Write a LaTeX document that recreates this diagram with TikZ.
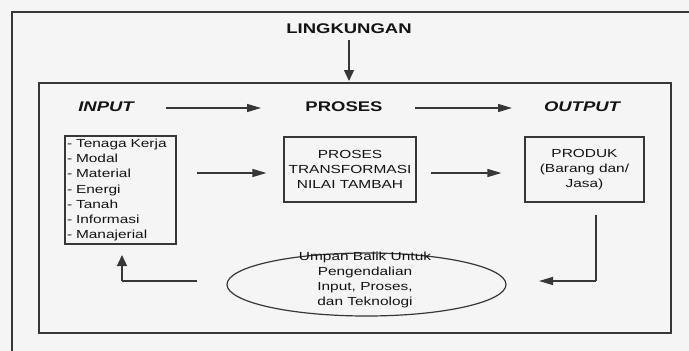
\documentclass[tikz,border=0pt]{standalone}
\usepackage{fontspec}
\setmainfont{Liberation Sans}[FakeStretch=1.32]
\usetikzlibrary{arrows.meta,shapes.geometric}
\definecolor{bgc}{RGB}{245,245,245}
\definecolor{lnc}{RGB}{55,55,55}
\definecolor{txc}{RGB}{20,20,20}
\tikzset{
  frame/.style={draw=lnc,line width=1.3pt},
  boxnode/.style={draw=lnc,line width=1.2pt,inner sep=2pt,text=txc,
    font=\fontsize{11.7}{15.2}\selectfont},
  head/.style={text=txc,font=\fontsize{14}{16}\selectfont\bfseries,inner sep=0pt},
  harr/.style={draw=lnc,line width=1.3pt,-{Triangle[length=14pt,width=8pt]}},
  varr/.style={draw=lnc,line width=1.3pt,-{Triangle[length=11pt,width=10pt]}},
  fbline/.style={draw=lnc,line width=1.3pt}
}
\begin{document}
\begin{tikzpicture}[x=1pt,y=-1pt]
\useasboundingbox (0,0) rectangle (689,351);
\fill[bgc] (0,0) rectangle (689,351);
% outer and inner frames
\draw[frame] (12,352) -- (12,12) -- (689,12);
\draw[frame] (39,83) rectangle (671,333);
% headings
\node[head] (ling) at (349,29) {LINGKUNGAN};
\node[head] (inp) at (106,107) {\itshape INPUT};
\node[head] (pros) at (344,107) {PROSES};
\node[head] (outp) at (582,107) {\itshape OUTPUT};
\coordinate (frametop) at (349,81);
\draw[varr] (ling.south) ++(0,6) -- (frametop);
\coordinate (a1s) at (166,108);
\coordinate (a1e) at (261,108);
\coordinate (a2s) at (415,108);
\coordinate (a2e) at (512,108);
\draw[harr] (a1s) -- (a1e);
\draw[harr] (a2s) -- (a2e);
% boxes
\node[boxnode,minimum width=111pt,minimum height=108pt,text width=107pt,align=left]
  (inbox) at (120.5,190) {- Tenaga Kerja\\- Modal\\- Material\\- Energi\\- Tanah\\- Informasi\\- Manajerial};
\node[boxnode,minimum width=132pt,minimum height=65pt,align=center]
  (proses) at (350,169.5) {PROSES\\TRANSFORMASI\\NILAI TAMBAH};
\node[boxnode,minimum width=119pt,minimum height=65pt,align=center]
  (produk) at (584.5,169.5) {PRODUK\\(Barang dan/\\Jasa)};
\draw[harr] (inbox.east |- 0,173) ++(20,0) -- ([xshift=-17pt]proses.west |- 0,173);
\draw[harr] (proses.east |- 0,173) ++(14,0) -- ([xshift=-23pt]produk.west |- 0,173);
% feedback ellipse
\node[ellipse,draw=lnc,line width=1.2pt,minimum width=279pt,minimum height=63pt,inner sep=0pt]
  (fb) at (366.5,284.5) {};
\node[boxnode,draw=none,align=center,font=\fontsize{11.7}{15}\selectfont]
  (fbtext) at (365,280) {Umpan Balik Untuk\\Pengendalian\\Input, Proses,\\dan Teknologi};
% feedback connectors
\coordinate (rtop) at (596,215);
\coordinate (rcorner) at (596,281);
\coordinate (rend) at (539,281);
\draw[fbline] (rtop) -- (rcorner);
\draw[harr] (rcorner) -- (rend);
\coordinate (lstart) at (197,281);
\coordinate (lcorner) at (122,281);
\coordinate (lend) at (122,255);
\draw[fbline] (lstart) -- (lcorner);
\draw[varr] (lcorner) -- (lend);
\end{tikzpicture}
\end{document}
